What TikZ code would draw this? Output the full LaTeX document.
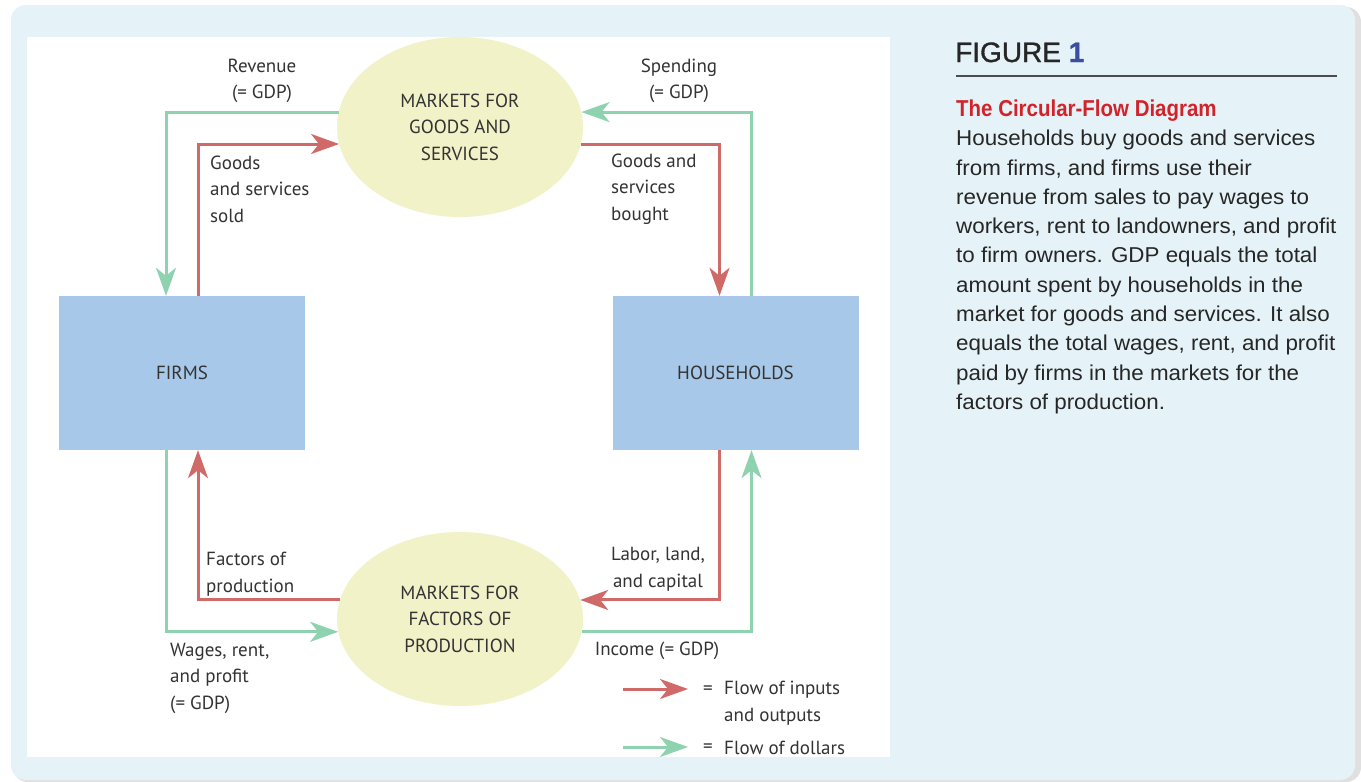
\documentclass[tikz,border=0pt]{standalone}
\usepackage{fontspec}
\setmainfont{Liberation Sans}
\newfontfamily\diagfont{PT Sans}
\newfontfamily\condfont[FakeStretch=0.89]{Liberation Sans}
\newfontfamily\bodyfont[FakeStretch=1.04]{Liberation Sans}
\newfontfamily\figfont[FakeBold=1.2]{Liberation Sans}
\usetikzlibrary{shapes,arrows.meta,positioning}

\definecolor{panelblue}{HTML}{E5F3F8}
\definecolor{marketfill}{HTML}{F1F2C8}
\definecolor{agentfill}{HTML}{A7C8E8}
\definecolor{flowred}{HTML}{CF6A69}
\definecolor{flowgreen}{HTML}{8ED2AF}
\definecolor{titlered}{HTML}{D2232A}
\definecolor{figblue}{HTML}{3A4FA2}
\definecolor{inktext}{HTML}{333333}

\tikzset{
  market/.style={ellipse, fill=marketfill, minimum width=246pt, minimum height=180pt,
    inner sep=0pt, align=center, text=inktext, font=\diagfont\fontsize{19}{26.5}\selectfont},
  agent/.style={rectangle, fill=agentfill, minimum width=246pt, minimum height=154pt,
    text=inktext, font=\diagfont\fontsize{19}{26.5}\selectfont},
  lbl/.style={inner sep=0pt, text=inktext, font=\diagfont\fontsize{19}{26.5}\selectfont},
  goods/.style={draw=flowred, line width=3pt, -{Stealth[length=28pt,width=20pt,inset=8pt]}},
  dollars/.style={draw=flowgreen, line width=3pt, -{Stealth[length=28pt,width=20pt,inset=8pt]}},
}

\begin{document}
\begin{tikzpicture}[x=1pt,y=-1pt]
\useasboundingbox (0,0) rectangle (1361,782);
% page and panels
\fill[white] (0,0) rectangle (1361,782);
\fill[black!12, rounded corners=15pt] (13,7) rectangle (1361,782);
\fill[panelblue, rounded corners=15pt] (11,5) rectangle (1355,780);
\fill[white] (27,37) rectangle (890,757);

% markets and agents
\node[market] (gsmarket) at (460,127) {MARKETS FOR\\GOODS AND\\SERVICES};
\node[market, minimum height=174pt] (fpmarket) at (460,619) {MARKETS FOR\\FACTORS OF\\PRODUCTION};
\node[agent] (firms) at (182,373) {FIRMS};
\node[agent] (households) at (735.5,373) {HOUSEHOLDS};

% flows
\draw[dollars] (gsmarket.173) -| ([xshift=-16pt]firms.north);
\draw[goods] ([xshift=16pt]firms.north) |- (gsmarket.188);
\draw[goods] (gsmarket.352) -| ([xshift=-16pt]households.north);
\draw[dollars] ([xshift=16pt]households.north) |- (gsmarket.7);
\draw[goods] (fpmarket.171) -| ([xshift=16pt]firms.south);
\draw[dollars] ([xshift=-16pt]firms.south) |- (fpmarket.186);
\draw[goods] ([xshift=-16pt]households.south) |- (fpmarket.9);
\draw[dollars] (fpmarket.354) -| ([xshift=16pt]households.south);

% flow labels
\node[lbl, align=center] (revenue) at (262,81) {Revenue\\(= GDP)};
\node[lbl, align=center] (spending) at (679,81) {Spending\\(= GDP)};
\node[lbl, align=left, anchor=west] (sold) at (210,189) {Goods\\and services\\sold};
\node[lbl, align=left, anchor=west] (bought) at (611,189) {Goods and\\services\\bought};
\node[lbl, align=left, anchor=west] (factors) at (206,574) {Factors of\\production};
\node[lbl, align=center] (labor) at (658,569) {Labor, land,\\and capital};
\node[lbl, align=left, anchor=west] (wages) at (170,678) {Wages, rent,\\and profit\\(= GDP)};
\node[lbl] (income) at (657,651) {Income (= GDP)};

% legend
\coordinate (ka) at (623,689);
\coordinate (kb) at (688,689);
\coordinate (kc) at (623,747);
\coordinate (kd) at (688,747);
\draw[goods] (ka) -- (kb);
\draw[dollars] (kc) -- (kd);
\node[lbl] (eqa) at (708,690) {=};
\node[lbl, align=left, anchor=west] (keya) at (724,703) {Flow of inputs\\and outputs};
\node[lbl] (eqb) at (708,748) {=};
\node[lbl, anchor=west] (keyb) at (724,748) {Flow of dollars};

% caption
\node[anchor=base west, inner sep=0pt, text=black!85, font=\figfont\fontsize{28}{30}\selectfont]
  (fig) at (955,62) {FIGURE \textcolor{figblue}{\bfseries 1}};
\draw[black!70, line width=1.5pt] (956,76) -- (1337,76);
\node[anchor=base west, inner sep=0pt, text=titlered, font=\condfont\bfseries\fontsize{23}{24}\selectfont]
  (title) at (956,116) {The Circular-Flow Diagram};
\node[anchor=north west, inner sep=0pt, align=left, text=black!85,
  font=\bodyfont\fontsize{21.5}{29.3}\selectfont] (body) at (956,130)
  {Households buy goods and services\\from firms, and firms use their\\revenue from sales to pay wages to\\
   workers, rent to landowners, and profit\\to firm owners. GDP equals the total\\
   amount spent by households in the\\market for goods and services. It also\\
   equals the total wages, rent, and profit\\paid by firms in the markets for the\\factors of production.};
\end{tikzpicture}
\end{document}
